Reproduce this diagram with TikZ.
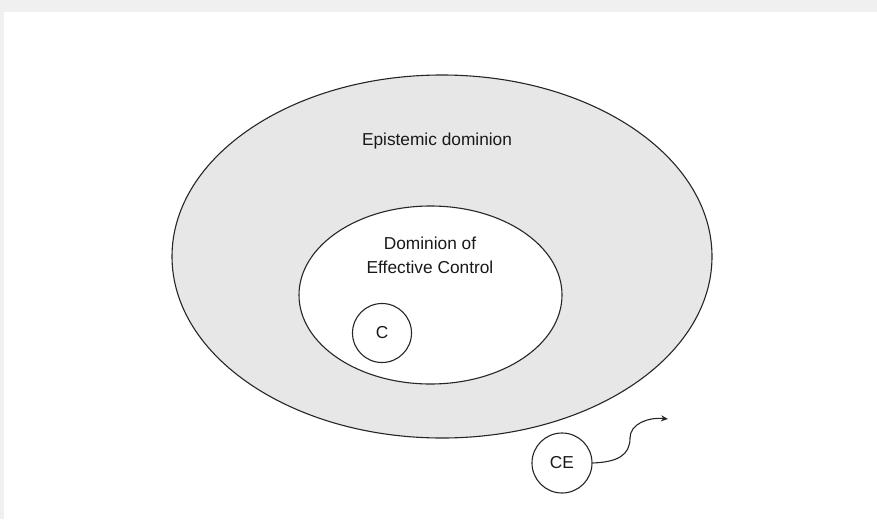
\documentclass[tikz,border=0pt]{standalone}
\usepackage{fontspec}
\setmainfont{Liberation Sans}
\usetikzlibrary{arrows.meta}
\definecolor{shade}{HTML}{E7E7E7}
\begin{document}
\begin{tikzpicture}[x=1pt,y=-1pt,
	txt/.style={font=\fontsize{17.3}{24}\selectfont, text=black!90},
	rim/.style={draw=black!85, line width=1.1pt}]
	\useasboundingbox (0,0) rectangle (877,519);
	\fill[black!6] (0,0) rectangle (877,519);
	\fill[white] (4,12) rectangle (877,519);

	\draw[rim, fill=shade] (442,256.5) ellipse (270 and 181.5);
	\draw[rim, fill=white] (430.5,295) ellipse (131.5 and 89);

	\node[txt] (epi) at (437,141) {Epistemic dominion};
	\node[txt, align=center] (doc) at (430,255) {Dominion of\\Effective Control};

	\node[rim, circle, minimum size=59pt, inner sep=0pt, txt] (c) at (382,333) {C};
	\node[rim, circle, minimum size=60pt, inner sep=0pt, txt] (ce) at (562,463) {CE};

	\coordinate (tip) at (668,419);
	\draw[black!85, line width=1.1pt, -{Stealth[length=7pt,width=6pt]}]
		(ce.east) .. controls (618,462) and (630,455) .. (630,438)
		.. controls (630,424) and (648,417) .. (tip);
\end{tikzpicture}
\end{document}
